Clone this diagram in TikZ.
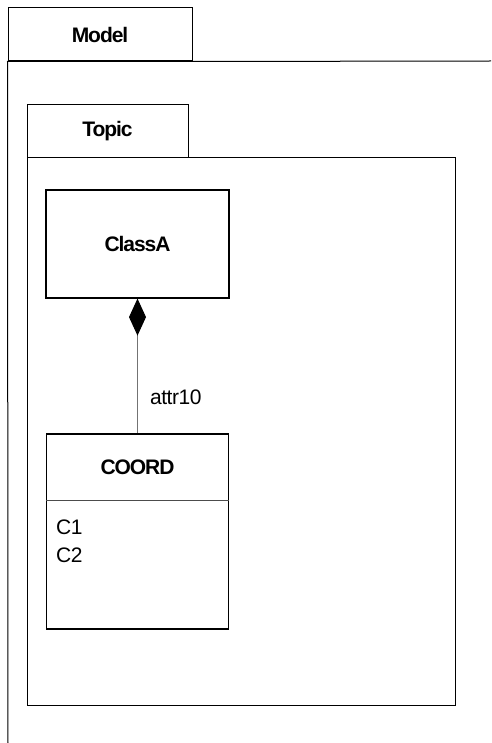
\documentclass[tikz,border=0pt]{standalone}
\usepackage{fontspec}
\setmainfont{Liberation Sans}
\usetikzlibrary{arrows.meta,positioning}

\begin{document}
\begin{tikzpicture}[x=1pt, y=-1pt,
    tab/.style={draw, line width=1pt, minimum width=#1, minimum height=53pt, inner sep=0pt, font=\bfseries\fontsize{21}{24}\selectfont\addfontfeature{LetterSpace=-5}},
    frame/.style={draw, line width=1pt},
    cls/.style={draw, line width=1.2pt, inner sep=0pt, font=\bfseries\fontsize{21}{24}\selectfont\addfontfeature{LetterSpace=-5}},
    lbl/.style={font=\fontsize{21}{28}\selectfont\addfontfeature{LetterSpace=-2}, inner sep=0pt},
    comp/.style={draw=black!55, line width=1pt, {Diamond[length=37pt, width=17pt, color=black, fill=black]}-}
]
\useasboundingbox (0,0) rectangle (491,743);

% package Model
\node[tab=184pt] (modeltab) at (100,34.5) {Model};
\coordinate (modelend) at (491,61);
\coordinate (modelfoot) at (8,743);
\draw[frame] (modelend) -- (modeltab.south east) -- (modeltab.south west) -- (modelfoot);

% package Topic
\node[tab=161pt] (topictab) at (107.5,131.5) {Topic};
\node[frame, minimum width=428pt, minimum height=547pt, inner sep=0pt] (topic) at (241,431.5) {};

% classes
\node[cls, minimum width=183pt, minimum height=108pt] (classa) at (137.5,244) {ClassA};
\node[cls, minimum width=182pt, minimum height=195pt] (coord) at (137.5,531.5) {};
\node[cls, draw=none, minimum width=182pt, minimum height=66pt, anchor=north] (coordname) at (coord.north) {COORD};
\draw[frame, draw=black!70] (coordname.south west) -- (coordname.south east);
\node[lbl, align=left, anchor=north west] (coordattr) at (56,520) {C1\\C2};

% composition
\draw[comp] (classa.south) -- node[lbl, right=12pt, pos=0.73] {attr10} (coord.north);
\end{tikzpicture}
\end{document}
